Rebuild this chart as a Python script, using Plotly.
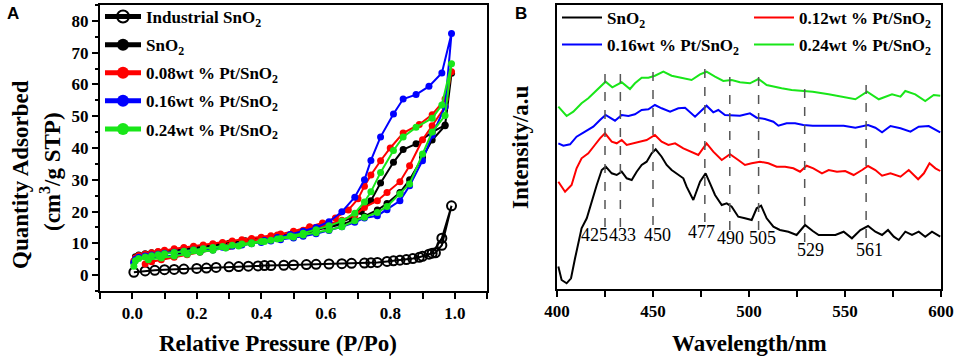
import plotly.graph_objects as go

# ---------------- Panel A: N2 isotherms ----------------
IND_P = [0.005, 0.04, 0.07, 0.10, 0.13, 0.16, 0.20, 0.23, 0.26, 0.30, 0.33, 0.36, 0.39, 0.41,
         0.43, 0.47, 0.50, 0.54, 0.57, 0.61, 0.65, 0.68, 0.72, 0.74, 0.76, 0.79, 0.81, 0.83,
         0.85, 0.87, 0.89, 0.92, 0.94, 0.96, 0.99, 0.96, 0.93, 0.90]
IND_Q = [0.9, 1.3, 1.5, 1.7, 1.8, 1.9, 2.1, 2.2, 2.4, 2.6, 2.7, 2.8, 2.9, 3.0,
         3.0, 3.1, 3.2, 3.3, 3.4, 3.5, 3.6, 3.7, 3.8, 3.9, 4.0, 4.3, 4.5, 4.7,
         4.9, 5.2, 5.6, 6.6, 7.0, 9.4, 21.8, 11.6, 6.9, 5.9]

P_ADS = [0.005, 0.01, 0.02, 0.04, 0.06, 0.08, 0.10, 0.13, 0.16, 0.19, 0.22, 0.25, 0.28, 0.31,
         0.34, 0.37, 0.40, 0.43, 0.46, 0.50, 0.53, 0.57, 0.61, 0.65, 0.69, 0.72, 0.76, 0.79,
         0.83, 0.86, 0.90, 0.93, 0.97, 0.99]

SNO2_ADS = [4.0, 5.8, 6.3, 6.7, 7.0, 7.3, 7.6, 8.0, 8.4, 8.8, 9.2, 9.6, 10.0, 10.4,
            10.8, 11.2, 11.6, 12.0, 12.4, 13.0, 13.5, 14.2, 15.0, 16.0, 17.3, 18.5, 20.5, 22.5,
            26.0, 30.0, 37.0, 42.5, 47.0, 63.5]
SNO2_DES_P = [0.97, 0.93, 0.88, 0.84, 0.81, 0.77, 0.74, 0.71, 0.68, 0.64, 0.60, 0.55, 0.50,
              0.45, 0.40, 0.35, 0.30, 0.25, 0.20, 0.15, 0.10, 0.06, 0.03]
SNO2_DES = [47.2, 45.0, 41.3, 39.5, 35.5, 29.0, 23.4, 20.0, 18.0, 16.5, 15.4, 14.3, 13.3,
            12.4, 11.6, 10.8, 10.0, 9.2, 8.4, 7.6, 6.9, 6.4, 6.0]

PT08_ADS = [4.5, 5.5, 6.2, 6.6, 7.0, 7.4, 7.8, 8.3, 8.7, 9.1, 9.5, 9.9, 10.3, 10.7,
            11.1, 11.5, 11.9, 12.4, 12.9, 13.5, 14.1, 14.9, 16.0, 17.3, 18.8, 21.3, 23.4, 26.0,
            29.4, 34.4, 42.6, 47.0, 53.0, 64.0]
PT08_DES_P = [0.97, 0.93, 0.89, 0.84, 0.80, 0.77, 0.74, 0.72, 0.70, 0.67, 0.63, 0.59, 0.55,
              0.50, 0.45, 0.40, 0.35, 0.30, 0.25, 0.21, 0.17, 0.13, 0.09, 0.06, 0.04]
PT08_DES = [55.4, 50.5, 47.4, 44.7, 40.0, 36.0, 31.5, 28.0, 24.0, 20.5, 18.0, 16.4, 15.2,
            13.8, 12.6, 11.4, 10.4, 9.0, 8.0, 7.2, 6.4, 5.6, 4.8, 4.2, 3.5]

PT16_ADS = [4.0, 5.0, 5.6, 6.0, 6.3, 6.6, 6.9, 7.2, 7.5, 7.9, 8.2, 8.5, 8.8, 9.1,
            9.5, 9.9, 10.3, 10.7, 11.1, 11.7, 12.2, 13.0, 14.0, 15.2, 16.6, 18.0, 18.7, 20.6,
            23.4, 28.1, 36.0, 44.0, 53.0, 76.0]
PT16_DES_P = [0.96, 0.92, 0.88, 0.84, 0.81, 0.77, 0.74, 0.72, 0.69, 0.65, 0.61, 0.57, 0.53,
              0.49, 0.45, 0.41, 0.37, 0.33, 0.29, 0.25, 0.21, 0.17, 0.13, 0.09, 0.05]
PT16_DES = [63.6, 59.4, 56.8, 55.4, 50.7, 43.5, 36.1, 30.0, 24.5, 19.9, 16.8, 15.0, 13.8,
            12.8, 11.8, 10.9, 10.1, 9.3, 8.6, 7.9, 7.3, 6.7, 6.2, 5.7, 5.2]

PT24_ADS = [2.8, 4.5, 5.2, 5.7, 6.1, 6.4, 6.7, 7.1, 7.5, 7.9, 8.3, 8.7, 9.0, 9.4,
            9.8, 10.2, 10.6, 11.0, 11.5, 12.0, 12.6, 13.3, 14.2, 15.2, 17.1, 18.2, 19.7, 21.6,
            25.5, 28.7, 38.1, 45.0, 50.2, 66.5]
PT24_DES_P = [0.96, 0.93, 0.88, 0.84, 0.81, 0.77, 0.74, 0.72, 0.69, 0.65, 0.61, 0.57, 0.53,
              0.49, 0.45, 0.41, 0.37, 0.33, 0.29, 0.25, 0.21, 0.17, 0.13, 0.09, 0.05]
PT24_DES = [53.5, 49.4, 46.5, 43.5, 39.2, 32.3, 26.2, 23.0, 19.5, 17.0, 15.5, 14.3, 13.2,
            12.3, 11.4, 10.6, 9.9, 9.2, 8.5, 7.8, 7.2, 6.6, 6.0, 5.4, 4.8]

A_XTICKS = [0.0, 0.2, 0.4, 0.6, 0.8, 1.0]
A_YTICKS = [0, 10, 20, 30, 40, 50, 60, 70, 80]

# ---------------- Panel B: PL spectra ----------------
BLK_NM = [400.7, 402.4, 405, 407.3, 409.4, 411.1, 412.8, 415.5, 418, 420.7, 423.3, 425.4, 428.5,
          431.1, 433.7, 436.3, 438.9, 441.5, 444.1, 446.7, 449.3, 451.4, 454.5, 457.1, 459.7,
          463.2, 465.8, 467.5, 471, 474.5, 477.4, 479.7, 482.3, 485.8, 488.4, 491, 494.4, 497.9,
          501.4, 504, 506.3, 509.2, 512.7, 516.1, 520.5, 524.8, 529.2, 533.2, 536.3, 540.6, 545,
          549.3, 553.6, 558, 562, 565.8, 569.3, 572.4, 575.4, 578, 581.4, 584.9, 588.4, 591.8,
          595.3, 599.6]
BLK_I = [22.5, 9, 5.7, 10.7, 30.7, 47.3, 60.7, 70.7, 87.3, 104, 119, 122.3, 115.7,
         114, 117.3, 110.7, 109, 117.3, 124, 127.3, 135.7, 139.7, 132.3, 124, 119,
         114, 110.7, 102.3, 89, 107.3, 115.7, 105.7, 94, 84, 85.7, 82.3, 72.3, 70.7,
         69, 80.7, 83.3, 70.7, 62.3, 59, 57.3, 54, 64, 58, 54, 54, 54,
         57.3, 50.7, 59, 63, 57.3, 54, 59, 52.3, 49, 57.3, 54, 57.3, 52.3,
         57.3, 52.3]

RED_NM = [400.7, 404.2, 407.6, 410.2, 412.8, 416.3, 419.7, 422.4, 425, 428.5, 431.1, 433.7,
          436.3, 439.8, 443.2, 446.7, 451, 454.5, 458, 461.5, 465.8, 470.1, 473.6, 477.9, 481.4,
          485.8, 490.1, 494.4, 497.9, 501.4, 505.7, 510.1, 514.4, 518.8, 523.1, 526.6, 530,
          533.5, 538, 541.5, 545.8, 550.1, 554.5, 558.9, 562, 565.8, 569.3, 573.7, 578.9, 583.2,
          588.1, 591.1, 594, 597.1, 599.6]
RED_I = [107.3, 97.3, 104, 120.7, 130.7, 135.7, 144, 150.7, 155.7, 147.3, 145.7, 149,
         144, 145.7, 147.3, 149, 154, 147.3, 144, 145.7, 140.7, 137.3, 134, 145.7, 137.3,
         129, 134.7, 129, 124, 125.7, 127.3, 125.7, 122.3, 122.3, 120.7, 117.3, 123.3,
         120.7, 115.7, 119, 117.3, 118, 114, 119, 123, 119, 113.3, 115.7, 112.3, 119,
         109.7, 115.7, 125.7, 120.7, 118]

BLU_NM = [400.7, 403.3, 406.8, 410.2, 414.6, 418.9, 422.4, 425.3, 427.6, 430.2, 433.7, 437.2,
          440.6, 444.1, 447.6, 451, 454.5, 458.9, 463.2, 466.7, 471.9, 474.5, 477.9, 481.4, 484,
          487.5, 491, 495.3, 500.5, 504, 508.3, 512.7, 515.3, 519.6, 524, 528.3, 533.2, 539.7,
          549.3, 555.4, 562, 565.8, 569.3, 573.7, 578.9, 584.1, 588.4, 593.6, 599.6]
BLU_I = [145.7, 143.3, 144.7, 152.3, 157.3, 162.3, 169, 174, 171.3, 168.3, 174, 173,
         174.7, 179, 179.7, 184, 180.7, 177.3, 180.7, 181.3, 172.3, 177.3, 183.3, 176.7, 179,
         174, 174, 173.3, 175.7, 171.3, 170, 167.3, 163.3, 165.7, 165.7, 164, 163.3, 163,
         163.3, 161.3, 164, 161.3, 156.7, 163, 160.7, 157.3, 162.3, 163, 156.7]

GRN_NM = [400.7, 405, 408.5, 412.8, 416.3, 420.7, 425.3, 428.8, 433.7, 438, 440.6, 444.1,
          447.6, 451, 455.4, 459.7, 465.8, 470.1, 474.5, 477.9, 482.3, 486.6, 491, 495.3,
          500.5, 504.9, 509.2, 512.7, 517, 522.2, 527.4, 533.2, 541.5, 549.3, 555.4, 561.5,
          567.6, 574.5, 578.9, 581.4, 586.6, 591.8, 596.2, 599.6]
GRN_I = [182.3, 173, 177.3, 185.7, 190.7, 199, 207.3, 201.7, 206.7, 200, 205.7, 211.3,
         211.3, 213.3, 217.3, 213.3, 210.7, 209, 214.7, 217.3, 212.3, 208, 209, 206.7,
         205.7, 210, 204, 202.3, 200.7, 199, 198, 197.3, 194.7, 192.3, 189.7, 197.3,
         189.7, 194.7, 192.3, 198, 194.7, 188, 194, 193.3]

PEAKS = [425, 433, 450, 477, 490, 505, 529, 561]
PEAK_LABELS = ["425", "433", "450", "477", "490", "505", "529", "561"]
B_XTICKS = [400, 450, 500, 550, 600]

# layout-only helpers (dashed guide extents and label placement)
DASH_TOP = [221, 221, 222, 226, 218, 216, 207, 211]
DASH_BOT = [62, 62, 64, 67, 59, 59, 47, 51]
LBL_X = [419.3, 433.9, 452.6, 475.0, 490.6, 506.8, 531.8, 562.5]
LBL_Y = [54, 54, 54, 57, 51, 51, 39, 39]

SERIF = "Liberation Serif"
BLACK, RED, BLUE, GREEN = "#000000", "#ff0000", "#0000ff", "#19e619"


def font(size, weight="bold", family=SERIF):
    return dict(family=family, size=size, color="black", weight=weight)


fig = go.Figure()

fig.add_trace(go.Scatter(
    x=IND_P, y=IND_Q, mode="lines+markers", name="Industrial SnO<sub>2</sub>",
    line=dict(color=BLACK, width=2),
    marker=dict(symbol="circle-open", size=9, color=BLACK, line=dict(width=2, color=BLACK)),
    xaxis="x", yaxis="y", legend="legend", legendgroup="g1"))

for name, col, ads, desp, des, grp in [
    ("SnO<sub>2</sub>", BLACK, SNO2_ADS, SNO2_DES_P, SNO2_DES, "g2"),
    ("0.08wt % Pt/SnO<sub>2</sub>", RED, PT08_ADS, PT08_DES_P, PT08_DES, "g3"),
    ("0.16wt % Pt/SnO<sub>2</sub>", BLUE, PT16_ADS, PT16_DES_P, PT16_DES, "g4"),
    ("0.24wt % Pt/SnO<sub>2</sub>", GREEN, PT24_ADS, PT24_DES_P, PT24_DES, "g5"),
]:
    fig.add_trace(go.Scatter(
        x=P_ADS + desp, y=ads + des, mode="lines+markers", name=name,
        line=dict(color=col, width=2), marker=dict(symbol="circle", size=7, color=col),
        xaxis="x", yaxis="y", legend="legend", legendgroup=grp))

for name, col, xs, ys, lg in [
    ("SnO<sub>2</sub>", BLACK, BLK_NM, BLK_I, "legend2"),
    ("0.12wt % Pt/SnO<sub>2</sub>", RED, RED_NM, RED_I, "legend2"),
    ("0.16wt % Pt/SnO<sub>2</sub>", BLUE, BLU_NM, BLU_I, "legend3"),
    ("0.24wt % Pt/SnO<sub>2</sub>", GREEN, GRN_NM, GRN_I, "legend3"),
]:
    fig.add_trace(go.Scatter(
        x=xs, y=ys, mode="lines", name=name, line=dict(color=col, width=2),
        xaxis="x2", yaxis="y2", legend=lg))

shapes = []
annotations = []
for pk, lbl, top, bot, lx, ly in zip(PEAKS, PEAK_LABELS, DASH_TOP, DASH_BOT, LBL_X, LBL_Y):
    shapes.append(dict(type="line", xref="x2", yref="y2", x0=pk, x1=pk, y0=bot, y1=top,
                       line=dict(color="#555555", width=1.5, dash="dash")))
    annotations.append(dict(xref="x2", yref="y2", x=lx, y=ly, text=lbl, showarrow=False,
                            font=font(18, "normal"), xanchor="center", yanchor="middle"))

W, H = 957, 359
annotations += [
    dict(xref="paper", yref="paper", x=13 / W, y=1 - 13 / H, text="A", showarrow=False,
         font=font(17, "bold", "Liberation Sans"), xanchor="center", yanchor="middle"),
    dict(xref="paper", yref="paper", x=521 / W, y=1 - 13 / H, text="B", showarrow=False,
         font=font(17, "bold", "Liberation Sans"), xanchor="center", yanchor="middle"),
    dict(xref="paper", yref="paper", x=278 / W, y=1 - 343 / H, text="Relative Pressure (P/Po)",
         showarrow=False, font=font(23), xanchor="center", yanchor="middle"),
    dict(xref="paper", yref="paper", x=749 / W, y=1 - 343 / H, text="Wavelength/nm",
         showarrow=False, font=font(23), xanchor="center", yanchor="middle"),
    dict(xref="paper", yref="paper", x=20 / W, y=1 - 175 / H, text="Quantity Adsorbed",
         showarrow=False, font=font(23), textangle=-90, xanchor="center", yanchor="middle"),
    dict(xref="paper", yref="paper", x=50 / W, y=1 - 172 / H, text="(cm<sup>3</sup>/g STP)",
         showarrow=False, font=font(23), textangle=-90, xanchor="center", yanchor="middle"),
    dict(xref="paper", yref="paper", x=520 / W, y=1 - 147 / H, text="Intensity/a.u",
         showarrow=False, font=font(23), textangle=-90, xanchor="center", yanchor="middle"),
]

axis_common = dict(showline=True, linewidth=2, linecolor="black", mirror=True, showgrid=False,
                   zeroline=False, ticks="outside", ticklen=6, tickwidth=1.5, tickcolor="black",
                   tickfont=font(17))

fig.update_layout(
    width=W, height=H, margin=dict(l=0, r=0, t=0, b=0, autoexpand=False),
    paper_bgcolor="white", plot_bgcolor="white", showlegend=True,
    xaxis=dict(domain=[100 / W, 487 / W], range=[-0.1, 1.1], tickvals=A_XTICKS,
               ticktext=[f"{v:.1f}" for v in A_XTICKS], anchor="y",
               minor=dict(dtick=0.1, tick0=0, ticks="outside", ticklen=6, tickwidth=1.5,
                          tickcolor="black"), **axis_common),
    yaxis=dict(domain=[1 - 291 / H, 1 - 5 / H], range=[-5, 85], tickvals=A_YTICKS, anchor="x",
               minor=dict(dtick=5, tick0=0, ticks="outside", ticklen=3, tickwidth=1.5,
                          tickcolor="black"), **axis_common),
    xaxis2=dict(domain=[557 / W, 941 / W], range=[400, 600], tickvals=B_XTICKS, anchor="y2",
                minor=dict(dtick=25, tick0=400, ticks="outside", ticklen=6, tickwidth=1.5,
                           tickcolor="black"), **axis_common),
    yaxis2=dict(domain=[1 - 289 / H, 1 - 5 / H], range=[0, 284], anchor="x2",
                showline=True, linewidth=2, linecolor="black", mirror=True, showgrid=False,
                zeroline=False, ticks="", showticklabels=False),
    legend=dict(x=100 / W, y=1 + 1 / H, xanchor="left", yanchor="top", bgcolor="rgba(0,0,0,0)",
                font=font(17), tracegroupgap=3, itemsizing="constant", itemwidth=36),
    legend2=dict(x=557 / W, y=1 - 0 / H, xanchor="left", yanchor="top", orientation="h",
                 bgcolor="rgba(0,0,0,0)", font=font(17), entrywidth=137, itemwidth=40,
                 entrywidthmode="pixels"),
    legend3=dict(x=557 / W, y=1 - 27 / H, xanchor="left", yanchor="top", orientation="h",
                 bgcolor="rgba(0,0,0,0)", font=font(17), entrywidth=137, itemwidth=40,
                 entrywidthmode="pixels"),
    shapes=shapes, annotations=annotations,
)

fig.write_html("out.html", post_script="document.body.style.margin='0';",
               config={"displayModeBar": False})
